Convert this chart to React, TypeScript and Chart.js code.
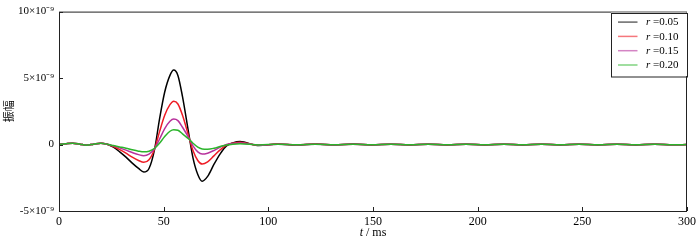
import React, { useEffect, useRef } from "react";
import { Chart, registerables } from "chart.js";

Chart.register(...registerables);

// time axis (ms)
const times = [
  0, 3, 6.5, 10, 13, 16.5, 20, 23, 26, 29, 32, 35, 38, 40.5, 43, 45.7, 48, 50.5, 53, 54.8, 56.8, 59, 62, 64,
  66.3, 68.4, 71, 74, 77, 80, 83, 86.5, 95.5, 104.5, 113.5, 122.5, 131.5, 140.5, 149.5, 158.5, 167.5,
  176.5, 185.5, 194.5, 203.5, 212.5, 221.5, 230.5, 239.5, 248.5, 257.5, 266.5, 275.5, 284.5, 293.5, 300,
];

// amplitudes in units of 1e-9
const r005 = [
  0, 0.05, 0.1, 0.03, -0.05, 0.03, 0.1, 0.02, -0.2, -0.55, -0.95, -1.4, -1.8, -2.07, -1.8, -0.32, 1.9, 3.95,
  5.2, 5.6, 5.2, 3.6, 0.8, -1.0, -2.25, -2.76, -2.4, -1.5, -0.7, -0.1, 0.12, 0.22, -0.08, 0.04, -0.04, 0.04,
  -0.03, 0.04, -0.03, 0.03, -0.03, 0.03, -0.03, 0.03, -0.03, 0.03, -0.03, 0.03, -0.03, 0.03, -0.03, 0.03,
  -0.03, 0.03, -0.02, 0,
];
const r010 = [
  0, 0.05, 0.1, 0.03, -0.05, 0.03, 0.1, 0.02, -0.15, -0.38, -0.65, -0.95, -1.2, -1.34, -1.15, -0.32, 0.95,
  2.2, 3.0, 3.26, 3.05, 2.2, 0.6, -0.45, -1.2, -1.47, -1.3, -0.85, -0.4, -0.05, 0.1, 0.18, -0.06, 0.04,
  -0.03, 0.04, -0.03, 0.03, -0.03, 0.03, -0.03, 0.03, -0.03, 0.03, -0.03, 0.03, -0.02, 0.03, -0.02, 0.02,
  -0.02, 0.02, -0.02, 0.02, -0.02, 0,
];
const r015 = [
  0, 0.05, 0.1, 0.03, -0.05, 0.03, 0.1, 0.02, -0.1, -0.25, -0.42, -0.6, -0.76, -0.84, -0.72, -0.3, 0.4, 1.2,
  1.75, 1.92, 1.8, 1.3, 0.5, -0.1, -0.55, -0.72, -0.65, -0.45, -0.2, 0, 0.08, 0.12, -0.05, 0.03, -0.03,
  0.03, -0.03, 0.03, -0.02, 0.03, -0.02, 0.03, -0.02, 0.02, -0.02, 0.02, -0.02, 0.02, -0.02, 0.02, -0.02,
  0.02, -0.02, 0.02, -0.02, 0,
];
const r020 = [
  0, 0.05, 0.1, 0.03, -0.05, 0.03, 0.1, 0.02, -0.08, -0.18, -0.28, -0.4, -0.5, -0.55, -0.5, -0.28, 0.1, 0.6,
  1.0, 1.12, 1.08, 0.8, 0.42, 0.1, -0.2, -0.33, -0.35, -0.28, -0.15, -0.03, 0.03, 0.06, -0.03, 0.02, -0.02,
  0.02, -0.02, 0.02, -0.02, 0.02, -0.02, 0.02, -0.02, 0.02, -0.02, 0.02, -0.02, 0.02, -0.02, 0.02, -0.02,
  0.02, -0.02, 0.02, -0.02, 0,
];

const seriesLabels = ["r =0.05", "r =0.10", "r =0.15", "r =0.20"];
const seriesColors = ["#000000", "#ee1c25", "#b8329c", "#2cb42c"];
const seriesValues = [r005, r010, r015, r020];

const xTicks = [0, 50, 100, 150, 200, 250, 300];
const yTicks = [-5, 0, 5, 10];
const yTickLabels: Record<string, string> = { "-5": "-5×10⁻⁹", "0": "0", "5": "5×10⁻⁹", "10": "10×10⁻⁹" };

const SERIF = "'Liberation Serif', 'Times New Roman', serif";

const framePlugin = {
  id: "frame",
  afterDraw(chart: any) {
    const { ctx, chartArea } = chart;
    const xs = chart.scales.x;
    const ys = chart.scales.y;
    ctx.save();
    ctx.strokeStyle = "#222";
    ctx.lineWidth = 1;
    ctx.strokeRect(chartArea.left + 0.5, chartArea.top + 0.5, chartArea.right - chartArea.left - 1, chartArea.bottom - chartArea.top);
    // inward ticks
    ctx.beginPath();
    xTicks.forEach((v) => {
      const px = Math.round(xs.getPixelForValue(v)) + 0.5;
      ctx.moveTo(px, chartArea.bottom);
      ctx.lineTo(px, chartArea.bottom - 4);
    });
    yTicks.forEach((v) => {
      const py = Math.round(ys.getPixelForValue(v)) + 0.5;
      ctx.moveTo(chartArea.left, py);
      ctx.lineTo(chartArea.left + 4, py);
    });
    ctx.stroke();

    // x title: italic t / ms
    ctx.fillStyle = "#000";
    ctx.textBaseline = "middle";
    const cx = (chartArea.left + chartArea.right) / 2;
    const ty = 233;
    ctx.font = `italic 12px ${SERIF}`;
    const tW = ctx.measureText("t").width;
    ctx.font = `12px ${SERIF}`;
    const restW = ctx.measureText(" / ms").width;
    const sx = cx - (tW + restW) / 2;
    ctx.font = `italic 12px ${SERIF}`;
    ctx.textAlign = "left";
    ctx.fillText("t", sx, ty);
    ctx.font = `12px ${SERIF}`;
    ctx.fillText(" / ms", sx + tW, ty);

    // y title
    ctx.save();
    ctx.translate(8.5, (chartArea.top + chartArea.bottom) / 2);
    ctx.rotate(-Math.PI / 2);
    ctx.textAlign = "center";
    ctx.font = "11px 'Noto Sans CJK SC'";
    ctx.fillText("振幅", 0, 0);
    ctx.restore();

    // legend
    const bw = 76;
    const bh = 63.5;
    const bx = chartArea.right - bw;
    const by = chartArea.top + 1;
    ctx.fillStyle = "#fff";
    ctx.fillRect(bx, by, bw, bh);
    ctx.strokeStyle = "#222";
    ctx.strokeRect(Math.round(bx) + 0.5, Math.round(by) + 0.5, bw, bh);
    chart.data.datasets.forEach((ds: any, i: number) => {
      const ry = by + 9.5 + i * 14.3;
      ctx.strokeStyle = ds.borderColor;
      ctx.globalAlpha = 0.6;
      ctx.lineWidth = 1.5;
      ctx.beginPath();
      ctx.moveTo(bx + 7, ry);
      ctx.lineTo(bx + 26.5, ry);
      ctx.stroke();
      ctx.globalAlpha = 1;
      ctx.fillStyle = "#000";
      ctx.textAlign = "left";
      const label: string = ds.label;
      const first = label.slice(0, 1);
      const rest = label.slice(1);
      ctx.font = `italic 11px ${SERIF}`;
      const fw = ctx.measureText(first).width;
      ctx.fillText(first, bx + 35, ry + 0.5);
      ctx.font = `11px ${SERIF}`;
      ctx.fillText(rest, bx + 35 + fw, ry + 0.5);
    });
    ctx.restore();
  },
};

export default function App() {
  const ref = useRef<HTMLCanvasElement>(null);
  useEffect(() => {
    document.body.style.margin = "0";
    const chart = new Chart(ref.current!, {
      type: "line",
      data: {
        datasets: seriesValues.map((vals, i) => ({
          label: seriesLabels[i],
          data: vals.map((v, j) => ({ x: times[j], y: v })),
          borderColor: seriesColors[i],
          backgroundColor: seriesColors[i],
          borderWidth: 1.5,
          pointRadius: 0,
          order: seriesValues.length - i,
          cubicInterpolationMode: "monotone" as const,
          fill: false,
        })),
      },
      options: {
        responsive: false,
        animation: false,
        events: [],
        layout: { padding: { left: 0, right: 10, top: 8, bottom: 0 } },
        plugins: { legend: { display: false }, tooltip: { enabled: false } },
        scales: {
          x: {
            type: "linear",
            min: 0,
            max: 300,
            afterBuildTicks: (s: any) => {
              s.ticks = xTicks.map((v) => ({ value: v }));
            },
            afterFit: (s: any) => {
              s.height = 30;
            },
            grid: { display: false, drawTicks: false },
            border: { display: false },
            ticks: {
              color: "#000",
              padding: 4,
              maxRotation: 0,
              font: { family: SERIF, size: 12 },
            },
          },
          y: {
            type: "linear",
            min: -5,
            max: 10,
            afterBuildTicks: (s: any) => {
              s.ticks = yTicks.map((v) => ({ value: v }));
            },
            afterFit: (s: any) => {
              s.width = 59;
            },
            grid: { display: false, drawTicks: false },
            border: { display: false },
            ticks: {
              color: "#000",
              padding: 5,
              font: { family: SERIF, size: 11 },
              callback: (v: any) => yTickLabels[String(v)] ?? String(v),
            },
          },
        },
      },
      plugins: [framePlugin],
    });
    return () => chart.destroy();
  }, []);
  return (
    <div style={{ width: 700, height: 241 }}>
      <canvas ref={ref} width={700} height={241} />
    </div>
  );
}
